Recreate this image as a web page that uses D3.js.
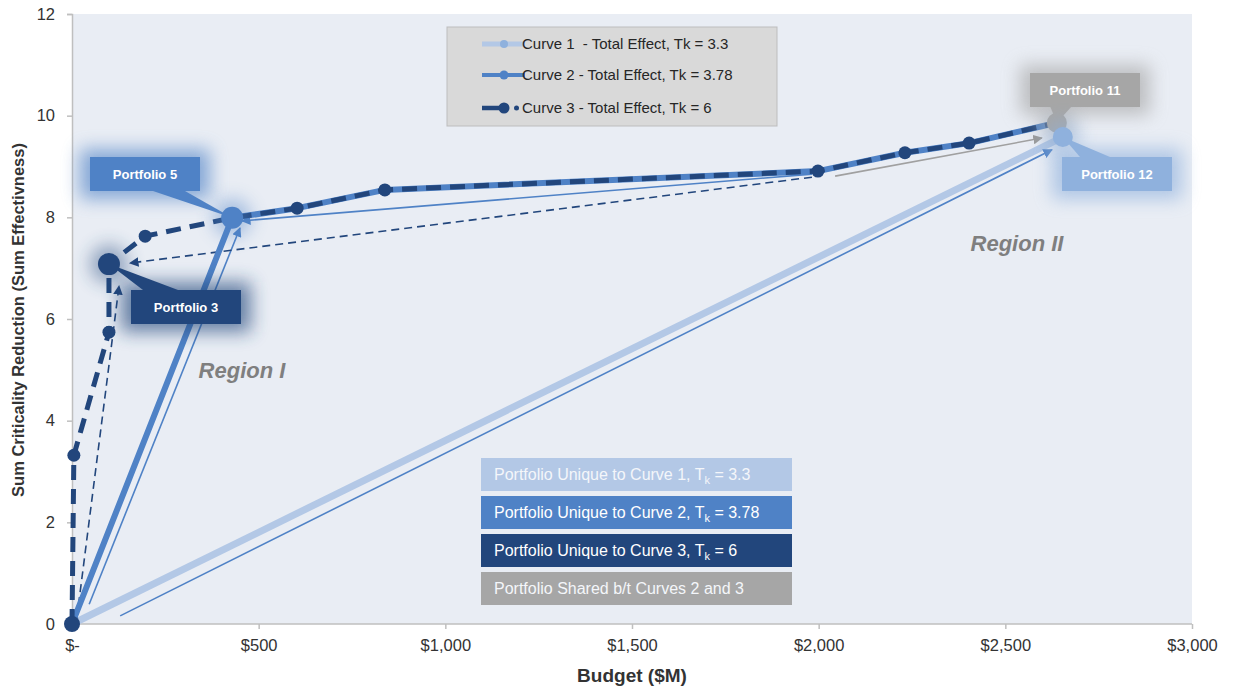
<!DOCTYPE html>
<html lang="en">
<head>
<meta charset="UTF-8">
<title>Budget vs Criticality Reduction</title>
<script src="https://cdn.jsdelivr.net/npm/d3@7"></script>
<style>
  body { margin: 0; background: #fff; font-family: "Liberation Sans", Arial, sans-serif; }
</style>
</head>
<body>
<svg width="1234" height="688"></svg>
<script>
// ---- data (budget $M, sum effectiveness) ----
var curve1Budget = [0, 2654];
var curve1Value = [0, 9.58];
var curve2Budget = [0, 429, 603, 838, 1998, 2231, 2403, 2638];
var curve2Value = [0, 7.99, 8.18, 8.54, 8.91, 9.27, 9.46, 9.86];
var curve3Budget = [0, 5, 99, 99, 196, 429, 603, 838, 1998, 2231, 2403, 2638];
var curve3Value = [0, 3.32, 5.74, 7.08, 7.63, 7.99, 8.18, 8.54, 8.91, 9.27, 9.46, 9.86];

var legendLabels = ["Curve 1\u00a0\u00a0- Total Effect, Tk = 3.3", "Curve 2 - Total Effect, Tk = 3.78", "Curve 3 - Total Effect, Tk = 6"];
var keyLabels = ["Portfolio Unique to Curve 1, T|k| = 3.3", "Portfolio Unique to Curve 2, T|k| = 3.78",
  "Portfolio Unique to Curve 3, T|k| = 6", "Portfolio Shared b/t Curves 2 and 3"];

// portfolios that get a call-out
var portfolioNames = ["Portfolio 5", "Portfolio 3", "Portfolio 11", "Portfolio 12"];
var portfolioBudget = [429, 99, 2638, 2654];
var portfolioValue = [7.99, 7.08, 9.86, 9.58];

// step arrows between portfolios [x1, y1, x2, y2]
var arrowsSolid = [[129, 0.16, 2625, 9.33], [46, 0.39, 450, 7.79], [1982, 8.85, 455, 7.93]];
var arrowsGray = [[2044, 8.81, 2598, 9.56]];
var arrowsDashed = [[13, 0.12, 126, 6.65], [1982, 8.79, 155, 7.10]];

var xTicks = [0, 500, 1000, 1500, 2000, 2500, 3000];
var yTicks = [0, 2, 4, 6, 8, 10, 12];

// ---- colours ----
var c1 = "#b3c8e6", c2 = "#4f82c6", c3 = "#22467c", cGray = "#a6a6a6", c12 = "#8fb1dd";

var svg = d3.select("svg");
var x = d3.scaleLinear().domain([0, 3000]).range([72, 1192]);
var y = d3.scaleLinear().domain([0, 12]).range([624, 14]);

var defs = svg.append("defs");
defs.append("filter").attr("id", "glow")
  .attr("x", "-50%").attr("y", "-80%").attr("width", "200%").attr("height", "260%")
  .append("feGaussianBlur").attr("stdDeviation", 9);

function marker(id, col) {
  defs.append("marker").attr("id", id)
    .attr("viewBox", "0 0 10 10").attr("refX", 9).attr("refY", 5)
    .attr("markerWidth", 6).attr("markerHeight", 6).attr("orient", "auto")
    .append("path").attr("d", "M0,0L10,5L0,10z").attr("fill", col);
}
marker("arBlue", c2);
marker("arGray", "#999");
marker("arDark", c3);

// plot background
svg.append("rect").attr("x", x(0)).attr("y", y(12))
  .attr("width", x(3000) - x(0)).attr("height", y(0) - y(12)).attr("fill", "#e9edf4");

// axes
var xAxis = svg.append("g").attr("transform", `translate(0,${y(0)})`)
  .call(d3.axisBottom(x).tickValues(xTicks).tickSize(5).tickPadding(10)
    .tickFormat(d => d === 0 ? "$-" : "$" + d3.format(",")(d)));
var yAxis = svg.append("g").attr("transform", `translate(${x(0)},0)`)
  .call(d3.axisLeft(y).tickValues(yTicks).tickSize(5).tickPadding(12));
[xAxis, yAxis].forEach(function(g) {
  g.selectAll("path, line").attr("stroke", "#bfbfbf").attr("stroke-width", 1.5);
  g.selectAll("text").attr("fill", "#333").attr("font-size", 16.5)
    .attr("font-family", "Liberation Sans, Arial, sans-serif");
});
xAxis.select(".domain").attr("d", `M${x(0)},0H${x(3000)}`);

svg.append("text").attr("x", 632).attr("y", 682).attr("text-anchor", "middle")
  .attr("font-size", 19).attr("font-weight", "bold").attr("fill", "#333").text("Budget ($M)");
svg.append("text").attr("transform", "translate(24,320) rotate(-90)").attr("text-anchor", "middle")
  .attr("font-size", 16.5).attr("font-weight", "bold").attr("fill", "#333")
  .text("Sum Criticality Reduction (Sum Effectivness)");

// region labels
svg.append("text").attr("x", 242).attr("y", 378).attr("text-anchor", "middle")
  .attr("font-size", 22).attr("font-weight", "bold").attr("font-style", "italic")
  .attr("fill", "#7f7f7f").text("Region I");
svg.append("text").attr("x", 1017).attr("y", 251).attr("text-anchor", "middle")
  .attr("font-size", 22).attr("font-weight", "bold").attr("font-style", "italic")
  .attr("fill", "#7f7f7f").text("Region II");

var line = d3.line().x(d => x(d[0])).y(d => y(d[1]));
var zip = (a, b) => a.map((v, i) => [v, b[i]]);

// curve 1
svg.append("path").datum(zip(curve1Budget, curve1Value)).attr("d", line)
  .attr("fill", "none").attr("stroke", c1).attr("stroke-width", 7);

// arrows
function drawArrows(data, col, w, dash, mk) {
  svg.append("g").selectAll("line").data(data).join("line")
    .attr("x1", d => x(d[0])).attr("y1", d => y(d[1]))
    .attr("x2", d => x(d[2])).attr("y2", d => y(d[3]))
    .attr("stroke", col).attr("stroke-width", w)
    .attr("stroke-dasharray", dash).attr("marker-end", `url(#${mk})`);
}
drawArrows(arrowsSolid, c2, 1.6, null, "arBlue");
drawArrows(arrowsGray, "#a0a0a0", 1.6, null, "arGray");
drawArrows(arrowsDashed, c3, 1.6, "8,5", "arDark");

// curve 2
svg.append("path").datum(zip(curve2Budget, curve2Value)).attr("d", line)
  .attr("fill", "none").attr("stroke", c2).attr("stroke-width", 6).attr("stroke-linejoin", "round");

// curve 3
var c3pts = zip(curve3Budget, curve3Value);
svg.append("path").datum(c3pts).attr("d", line)
  .attr("fill", "none").attr("stroke", c3).attr("stroke-width", 5)
  .attr("stroke-dasharray", "15,9");
svg.append("g").selectAll("circle").data(c3pts).join("circle")
  .attr("cx", d => x(d[0])).attr("cy", d => y(d[1])).attr("r", (d, i) => i === 0 ? 8 : 6.5)
  .attr("fill", c3);

// call-outs
var boxW = 110, boxH = 34;
var calloutCol = [c2, c3, cGray, c12];
var boxPos = [[90, 157], [131, 290], [1030, 73], [1062, 157]];   // box top-left, px
var tip = [[[153, 191], [185, 191]], [[143, 290], [178, 290]], [[1050, 106], [1072, 106]], [[1080, 157], [1110, 157]]];
var dotR = [11, 11, 10, 10];

var callouts = svg.append("g");
portfolioNames.forEach(function(name, i) {
  var bx = boxPos[i][0], by = boxPos[i][1];
  var px = x(portfolioBudget[i]), py = y(portfolioValue[i]);
  var g = callouts.append("g");
  g.append("rect").attr("x", bx - 10).attr("y", by - 8).attr("width", boxW + 20).attr("height", boxH + 16)
    .attr("fill", calloutCol[i]).attr("opacity", 0.65).attr("filter", "url(#glow)");
  g.append("circle").attr("cx", px).attr("cy", py).attr("r", dotR[i] + 8)
    .attr("fill", calloutCol[i]).attr("opacity", 0.45).attr("filter", "url(#glow)");
  g.append("path")
    .attr("d", `M${tip[i][0][0]},${tip[i][0][1]}L${px},${py}L${tip[i][1][0]},${tip[i][1][1]}Z`)
    .attr("fill", calloutCol[i]);
  g.append("rect").attr("x", bx).attr("y", by).attr("width", boxW).attr("height", boxH)
    .attr("fill", calloutCol[i]);
  g.append("text").attr("x", bx + boxW / 2).attr("y", by + boxH / 2 + 4.5).attr("text-anchor", "middle")
    .attr("font-size", 13).attr("font-weight", "bold").attr("fill", "#fff").text(name);
  g.append("circle").attr("cx", px).attr("cy", py).attr("r", dotR[i]).attr("fill", calloutCol[i]);
});

// legend
var lg = svg.append("g").attr("transform", "translate(447,27)");
lg.append("rect").attr("width", 330).attr("height", 99).attr("fill", "#d9d9d9")
  .attr("stroke", "#bdbdbd").attr("stroke-width", 1);
var legRows = [17, 48, 81];
lg.append("line").attr("x1", 35).attr("x2", 78).attr("y1", legRows[0]).attr("y2", legRows[0])
  .attr("stroke", c1).attr("stroke-width", 5);
lg.append("circle").attr("cx", 57).attr("cy", legRows[0]).attr("r", 4).attr("fill", "#8fb1dd");
lg.append("line").attr("x1", 35).attr("x2", 78).attr("y1", legRows[1]).attr("y2", legRows[1])
  .attr("stroke", c2).attr("stroke-width", 4);
lg.append("circle").attr("cx", 57).attr("cy", legRows[1]).attr("r", 4.5).attr("fill", c2);
lg.append("line").attr("x1", 35).attr("x2", 57).attr("y1", legRows[2]).attr("y2", legRows[2])
  .attr("stroke", c3).attr("stroke-width", 4.5);
lg.append("circle").attr("cx", 57).attr("cy", legRows[2]).attr("r", 5.5).attr("fill", c3);
lg.append("circle").attr("cx", 69.5).attr("cy", legRows[2]).attr("r", 2.5).attr("fill", c3);
lg.selectAll("text.leg").data(legendLabels).join("text").attr("class", "leg")
  .attr("x", 75).attr("y", (d, i) => legRows[i] + 5)
  .attr("font-size", 15).attr("fill", "#262626").text(d => d);

// colour key
var keyCol = [c1, c2, c3, cGray];
var key = svg.append("g").attr("transform", "translate(481,458)");
keyLabels.forEach(function(lab, i) {
  var ky = i * 38;
  key.append("rect").attr("y", ky).attr("width", 311).attr("height", 33).attr("fill", keyCol[i]);
  var parts = lab.split("|");
  var t = key.append("text").attr("x", 13).attr("y", ky + 22).attr("font-size", 16)
    .attr("fill", i === 0 || i === 3 ? "#f4f6fa" : "#fff");
  t.append("tspan").text(parts[0]);
  if (parts.length > 1) {
    t.append("tspan").attr("font-size", 11).attr("dy", 4).text(parts[1]);
    t.append("tspan").attr("dy", -4).text(parts[2]);
  }
});
</script>
</body>
</html>
